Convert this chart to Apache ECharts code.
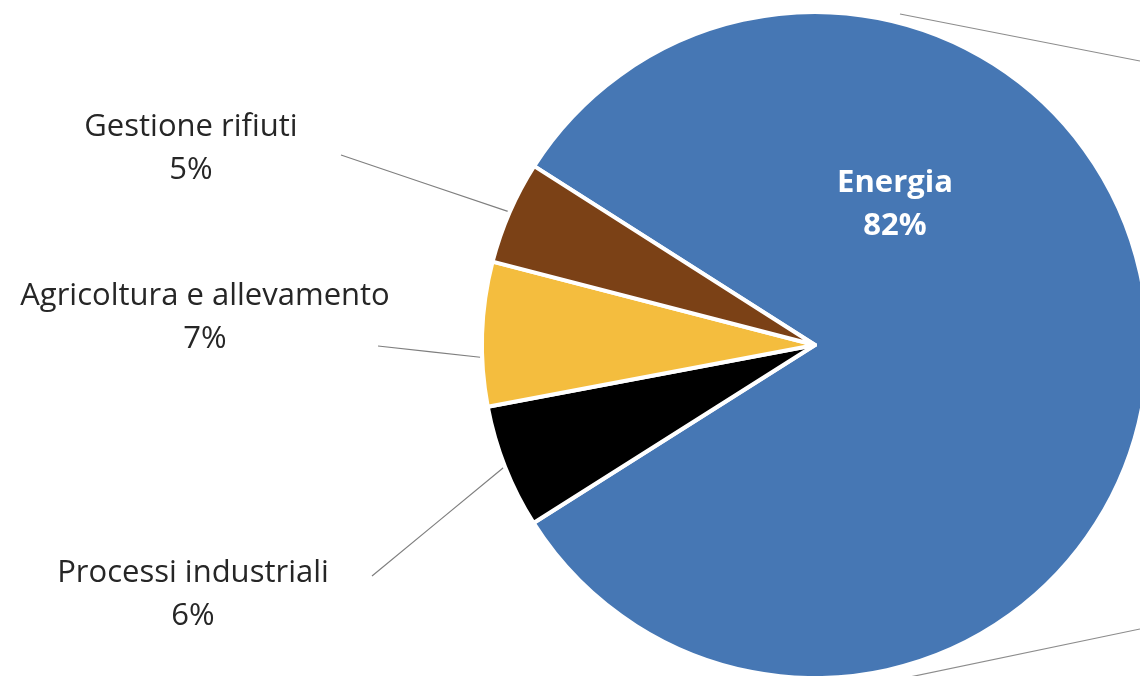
<!DOCTYPE html>
<html>
<head>
<meta charset="utf-8">
<script src="https://cdn.jsdelivr.net/npm/echarts@6/dist/echarts.min.js"></script>
<style>
html,body{margin:0;padding:0;background:#fff;}
#chart{width:1140px;height:676px;}
</style>
</head>
<body>
<div id="chart"></div>
<script>
// ---- data ----
const categories = ['Energia', 'Processi industriali', 'Agricoltura e allevamento', 'Gestione rifiuti'];
const values = [82, 6, 7, 5];
const colors = ['#4677B4', '#000000', '#F4BD3E', '#7B4116'];

// ---- label placement (layout only) ----
const labelPos = [
  { x: 895, y: 205 },
  { x: 193, y: 595 },
  { x: 205, y: 318 },
  { x: 191, y: 149 }
];
const lineEnd = [null, [372, 576], [378, 346], [341, 155]];
// angular shift (degrees, clockwise on screen) of where the leader line touches the slice
const lineAttachShift = [0, 0, 4, 0];

const chart = echarts.init(document.getElementById('chart'), null, { renderer: 'canvas' });

const data = categories.map((name, i) => {
  const item = {
    name: name,
    value: values[i],
    itemStyle: { color: colors[i] }
  };
  if (i === 0) {
    item.label = { color: '#ffffff', fontWeight: 'bold' };
    item.labelLine = { show: false };
  }
  return item;
});

const CX = 815, CY = 345;

chart.setOption({
  backgroundColor: '#ffffff',
  animation: false,
  graphic: [
    { type: 'polyline', z: 0, shape: { points: [[900, 14], [1140, 61]] }, style: { stroke: '#8c8c8c', lineWidth: 1.2 } },
    { type: 'polyline', z: 0, shape: { points: [[905, 678], [1140, 629]] }, style: { stroke: '#8c8c8c', lineWidth: 1.2 } }
  ],
  series: [{
    type: 'pie',
    z: 2,
    center: [CX, CY],
    radius: 333,
    startAngle: 147.5,
    clockwise: true,
    avoidLabelOverlap: false,
    itemStyle: { borderColor: '#ffffff', borderWidth: 4 },
    label: {
      show: true,
      position: 'outside',
      formatter: '{b}\n{c}%',
      fontFamily: 'Open Sans',
      fontSize: 31,
      lineHeight: 43,
      color: '#262626',
      align: 'center'
    },
    labelLine: {
      show: true,
      length: 10,
      length2: 10,
      lineStyle: { color: '#7f7f7f', width: 1.2 }
    },
    labelLayout: function (params) {
      const i = params.dataIndex;
      const res = {
        x: labelPos[i].x,
        y: labelPos[i].y,
        align: 'center',
        verticalAlign: 'middle'
      };
      if (lineEnd[i] && params.labelLinePoints) {
        const p0 = params.labelLinePoints[0];
        const a = Math.atan2(p0[1] - CY, p0[0] - CX) - lineAttachShift[i] * Math.PI / 180;
        const r = Math.hypot(p0[0] - CX, p0[1] - CY) + 2;
        const start = [CX + r * Math.cos(a), CY + r * Math.sin(a)];
        const end = lineEnd[i];
        res.labelLinePoints = [start, [(start[0] + end[0]) / 2, (start[1] + end[1]) / 2], end];
      }
      return res;
    },
    emphasis: { disabled: true },
    data: data
  }]
});
</script>
</body>
</html>
